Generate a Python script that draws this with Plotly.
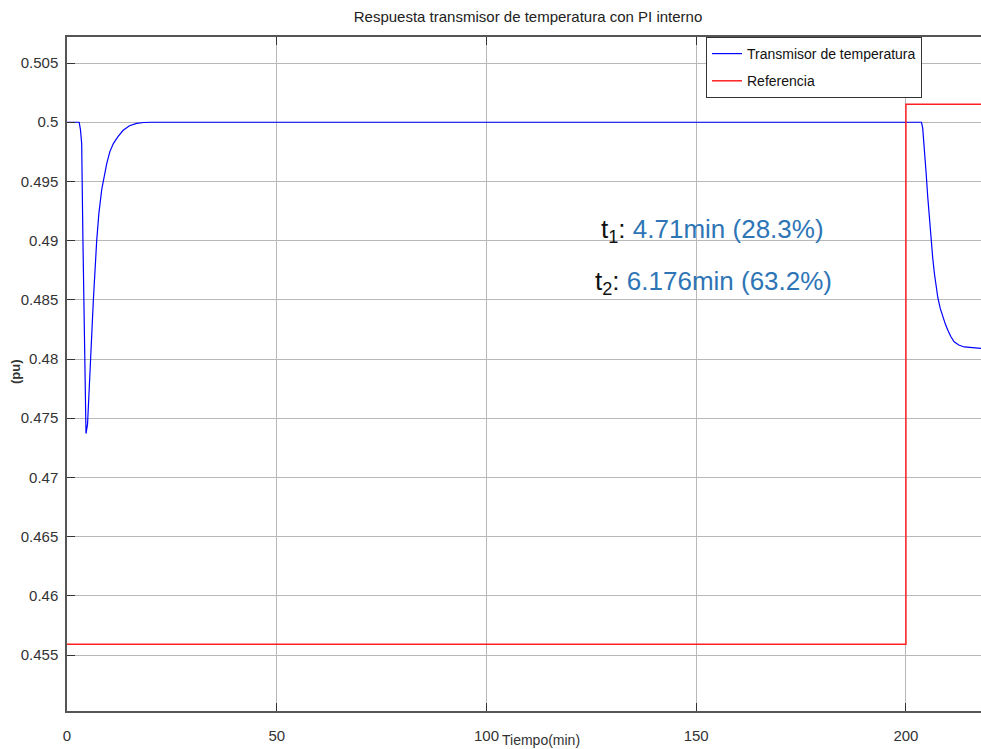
import plotly.graph_objects as go

# Transmitter response (pu) versus time (min)
t_transmisor = [0, 2.9, 3.2, 3.5, 3.8, 4.2, 4.53, 4.9, 5.49, 6.29, 7.08, 7.6, 8.27, 8.9,
                9.47, 10.2, 11.05, 12.2, 13.4, 14.9, 16.6, 18.3, 20,
                60, 120, 180, 203.7, 204.0, 204.4, 204.8, 205.2, 205.6, 206.0, 206.4,
                206.8, 207.2, 207.6, 208.2, 208.8, 209.4, 210.0, 210.7, 211.5, 212.6,
                213.9, 215.8, 218.0]
v_transmisor = [0.5, 0.5, 0.4994, 0.4982, 0.4900, 0.4790, 0.4737, 0.4745, 0.4793, 0.4850,
                0.4900, 0.4923, 0.4943, 0.4956, 0.4965, 0.4975, 0.4982, 0.4988, 0.49932,
                0.4997, 0.4999, 0.49998, 0.5,
                0.5, 0.5, 0.5, 0.5, 0.4995, 0.4979, 0.4958, 0.4937, 0.4918, 0.4900,
                0.4885, 0.4872, 0.4861, 0.4852, 0.48425, 0.48356, 0.48295, 0.48243,
                0.48190, 0.48145, 0.48118, 0.48102, 0.48093, 0.48089]

# Reference step
t_referencia = [0, 200, 200, 218.0]
v_referencia = [0.4559, 0.4559, 0.50152, 0.50152]

x_ticks = [0, 50, 100, 150, 200]
y_ticks = [0.455, 0.46, 0.465, 0.47, 0.475, 0.48, 0.485, 0.49, 0.495, 0.5, 0.505]
y_tick_labels = ["0.455", "0.46", "0.465", "0.47", "0.475", "0.48", "0.485",
                 "0.49", "0.495", "0.5", "0.505"]

titulo = "Respuesta transmisor de temperatura con PI interno"
etiqueta_t1 = ("t<sub>1</sub>: <span style='color:#2e75b6'>4.71min (28.3%)</span>")
etiqueta_t2 = ("t<sub>2</sub>: <span style='color:#2e75b6'>6.176min (63.2%)</span>")

sans = "Liberation Sans, Arial, sans-serif"

fig = go.Figure()
fig.add_trace(go.Scatter(x=t_transmisor, y=v_transmisor, mode="lines",
                         name="Transmisor de temperatura", legendgroup="a",
                         line=dict(color="#0000ff", width=1.2)))
fig.add_trace(go.Scatter(x=t_referencia, y=v_referencia, mode="lines",
                         name="Referencia", legendgroup="b",
                         line=dict(color="#ff2020", width=1.5)))

fig.update_layout(
    width=981, height=749,
    margin=dict(l=67, r=0, t=37, b=38),
    paper_bgcolor="white", plot_bgcolor="white",
    font=dict(family=sans, color="#333333", size=14),
    title=dict(text=titulo, x=528 / 981, xanchor="center", y=1 - 17 / 749, yanchor="middle",
               font=dict(family=sans, size=15, color="#222222")),
    showlegend=True,
    legend=dict(x=(706 - 67) / 914, xanchor="left", y=1, yanchor="top",
                bgcolor="white", bordercolor="#333333", borderwidth=1,
                font=dict(family=sans, size=14, color="#111111"),
                tracegroupgap=6, itemwidth=30),
    xaxis=dict(range=[0, 217.9], tickvals=x_ticks, ticktext=[str(v) for v in x_ticks],
               showgrid=True, gridcolor="#b8b8b8", gridwidth=1,
               zeroline=False, showline=True, linecolor="#555555", linewidth=1.5,
               mirror="ticks", ticks="inside", ticklen=8, tickcolor="#333333",
               ticklabelstandoff=10,
               tickfont=dict(family=sans, size=15, color="#333333")),
    yaxis=dict(range=[0.45027, 0.5072], tickvals=y_ticks, ticktext=y_tick_labels,
               showgrid=True, gridcolor="#b8b8b8", gridwidth=1,
               zeroline=False, showline=True, linecolor="#555555", linewidth=1.5,
               ticks="inside", ticklen=8, tickcolor="#333333",
               ticklabelstandoff=4,
               tickfont=dict(family=sans, size=15, color="#333333")),
)

fig.add_annotation(text="Tiempo(min)", xref="paper", yref="paper",
                   x=(541 - 67) / 914, y=-(740 - 711) / 674, showarrow=False,
                   xanchor="center", yanchor="middle",
                   font=dict(family=sans, size=14, color="#333333"))
fig.add_annotation(text="<b>(pu)</b>", xref="paper", yref="paper",
                   x=-(67 - 15) / 914, y=(711 - 372) / 674, showarrow=False,
                   textangle=-90, xanchor="center", yanchor="middle",
                   font=dict(family=sans, size=13, color="#333333"))
fig.add_annotation(text=etiqueta_t1, xref="paper", yref="paper",
                   x=(712 - 67) / 914, y=(711 - 231) / 674, showarrow=False,
                   xanchor="center", yanchor="middle",
                   font=dict(family=sans, size=26, color="#111111"))
fig.add_annotation(text=etiqueta_t2, xref="paper", yref="paper",
                   x=(713 - 67) / 914, y=(711 - 282) / 674, showarrow=False,
                   xanchor="center", yanchor="middle",
                   font=dict(family=sans, size=26, color="#111111"))

fig.write_html("out.html")
